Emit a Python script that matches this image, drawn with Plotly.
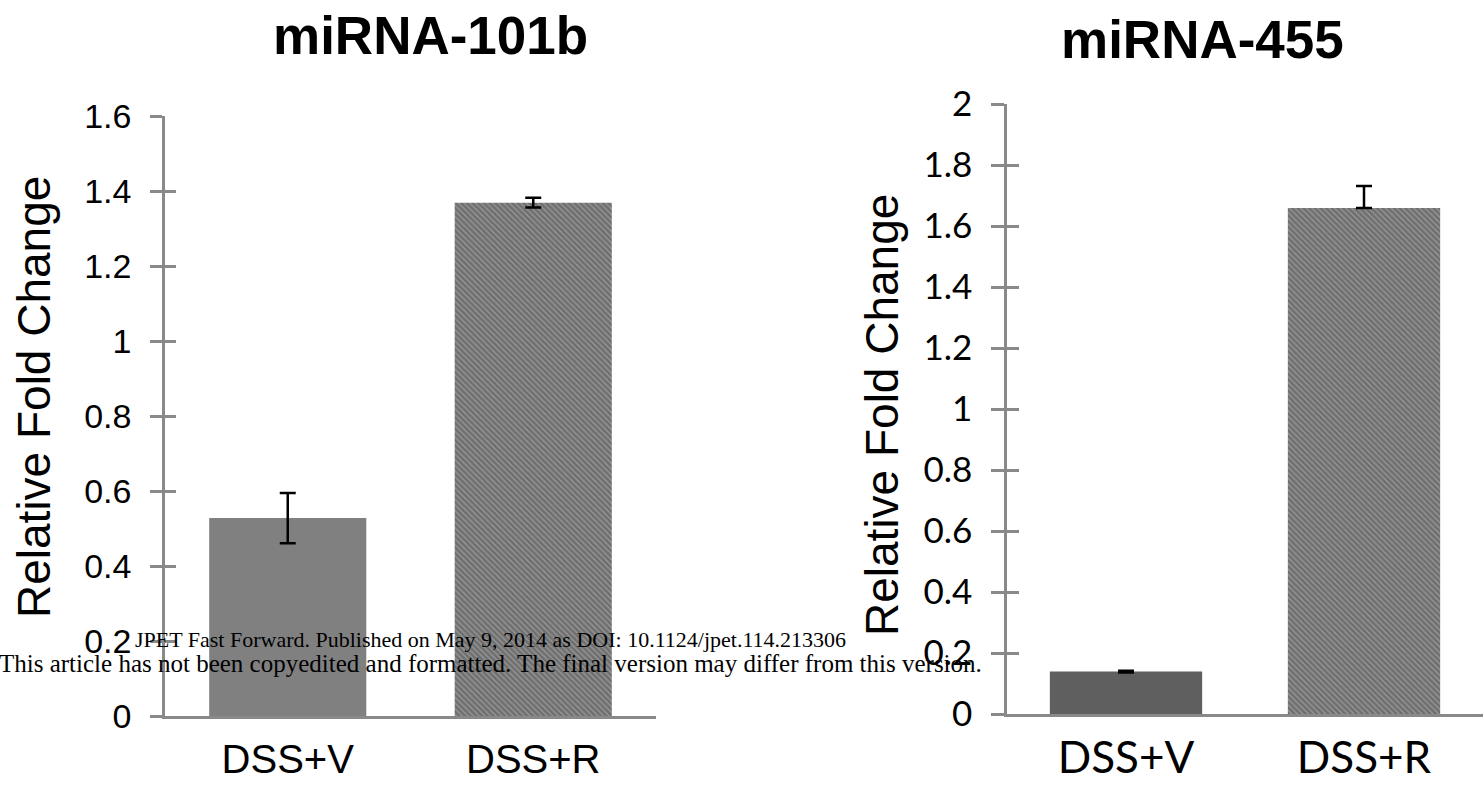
import plotly.graph_objects as go

W, H = 1483, 796

categories = ["DSS+V", "DSS+R"]

# miRNA-101b
mir101b_values = [0.528, 1.369]
mir101b_err = [0.067, 0.013]

# miRNA-455
mir455_values = [0.139, 1.659]
mir455_err_plus = [0.003, 0.072]
mir455_err_minus = [0.003, 0.0]

left_yticks = [0, 0.2, 0.4, 0.6, 0.8, 1.0, 1.2, 1.4, 1.6]
right_yticks = [0, 0.2, 0.4, 0.6, 0.8, 1.0, 1.2, 1.4, 1.6, 1.8, 2.0]

titles = ["miRNA-101b", "miRNA-455"]
ytitle = "Relative Fold Change"
watermark1 = "JPET Fast Forward. Published on May 9, 2014 as DOI: 10.1124/jpet.114.213306"
watermark2 = "This article has not been copyedited and formatted. The final version may differ from this version."

def px(x):
    return x / W

def py(y):
    return 1 - y / H

AX = "#898989"
ARIAL = "Liberation Sans, Arial, sans-serif"
CALIBRI = "Lato, Carlito, Calibri, sans-serif"
SERIF = "Liberation Serif, Times New Roman, serif"
HATCH_BG = "#9a9a9a"

fig = go.Figure()

fig.add_trace(go.Bar(
    x=categories, y=mir101b_values, xaxis="x", yaxis="y",
    marker=dict(color=["#808080", HATCH_BG], line=dict(width=0),
                pattern=dict(shape=["", "\\"], fgcolor="#000000", bgcolor=["#808080", HATCH_BG],
                             size=4, solidity=0.7)),
    error_y=dict(type="data", array=mir101b_err, visible=True, color="#000000",
                 thickness=2.5, width=8),
    showlegend=False, hoverinfo="x+y",
))
fig.add_trace(go.Bar(
    x=categories, y=mir455_values, xaxis="x2", yaxis="y2",
    marker=dict(color=["#5f5f5f", HATCH_BG], line=dict(width=0),
                pattern=dict(shape=["", "\\"], fgcolor="#000000", bgcolor=["#5f5f5f", HATCH_BG],
                             size=4, solidity=0.7)),
    error_y=dict(type="data", symmetric=False, array=mir455_err_plus, arrayminus=mir455_err_minus,
                 visible=True, color="#000000", thickness=2.5, width=8),
    showlegend=False, hoverinfo="x+y",
))
# empty traces so overlay axes (inner half of the cross ticks) are drawn
fig.add_trace(go.Scatter(x=[], y=[], xaxis="x", yaxis="y3", showlegend=False))
fig.add_trace(go.Scatter(x=[], y=[], xaxis="x2", yaxis="y4", showlegend=False))

xd1 = [px(165), px(656)]
yd1 = [py(716), py(116)]
xd2 = [px(1007), 1.0]
yd2 = [py(714), py(104)]

common_x = dict(showline=True, linecolor=AX, linewidth=2.5, ticks="", showgrid=False,
                zeroline=False, range=[-0.5, 1.5], type="category", automargin=False)
common_y = dict(showline=True, linecolor=AX, linewidth=2.5, ticks="outside", tickwidth=2.5,
                tickcolor=AX, showgrid=False, zeroline=False, automargin=False)
overlay_y = dict(showticklabels=False, ticks="inside", tickwidth=2.5, tickcolor=AX,
                 showline=False, showgrid=False, zeroline=False, automargin=False)
fig.update_layout(
    width=W, height=H, margin=dict(l=0, r=0, t=0, b=0, pad=0, autoexpand=False),
    paper_bgcolor="white", plot_bgcolor="white", bargap=0.36,
    xaxis=dict(domain=xd1, anchor="y", tickfont=dict(family=ARIAL, size=40, color="black"),
               ticklabelstandoff=6, **common_x),
    xaxis2=dict(domain=xd2, anchor="y2", tickfont=dict(family=CALIBRI, size=44, color="black"),
                ticklabelstandoff=3, **common_x),
    yaxis=dict(domain=yd1, anchor="x", range=[0, 1.6], tickvals=left_yticks,
               ticktext=[f"{v:g}" for v in left_yticks], ticklen=12,
               tickfont=dict(family=ARIAL, size=34, color="black"), ticklabelstandoff=12,
               **common_y),
    yaxis3=dict(overlaying="y", anchor="x", range=[0, 1.6], tickvals=left_yticks, ticklen=11,
                **overlay_y),
    yaxis2=dict(domain=yd2, anchor="x2", range=[0, 2.0], tickvals=right_yticks,
                ticktext=[f"{v:g}" for v in right_yticks], ticklen=13,
                tickfont=dict(family=CALIBRI, size=35, color="black"), ticklabelstandoff=12,
                **common_y),
    yaxis4=dict(overlaying="y2", anchor="x2", range=[0, 2.0], tickvals=right_yticks, ticklen=12,
                **overlay_y),
)

ann = []
ann.append(dict(text=f"<b>{titles[0]}</b>", x=px(430), y=py(35), xref="paper", yref="paper",
                showarrow=False, xanchor="center", yanchor="middle",
                font=dict(family=ARIAL, size=53, color="black")))
ann.append(dict(text=f"<b>{titles[1]}</b>", x=px(1202), y=py(39), xref="paper", yref="paper",
                showarrow=False, xanchor="center", yanchor="middle",
                font=dict(family=ARIAL, size=53, color="black")))
ann.append(dict(text=ytitle, x=px(34), y=py(397), xref="paper", yref="paper", textangle=-90,
                showarrow=False, xanchor="center", yanchor="middle",
                font=dict(family=ARIAL, size=46, color="black")))
ann.append(dict(text=ytitle, x=px(882), y=py(415), xref="paper", yref="paper", textangle=-90,
                showarrow=False, xanchor="center", yanchor="middle",
                font=dict(family=ARIAL, size=46, color="black")))
ann.append(dict(text=watermark1, x=px(491), y=py(639), xref="paper", yref="paper",
                showarrow=False, xanchor="center", yanchor="middle",
                font=dict(family=SERIF, size=22, color="black")))
ann.append(dict(text=watermark2, x=px(491), y=py(663), xref="paper", yref="paper",
                showarrow=False, xanchor="center", yanchor="middle",
                font=dict(family=SERIF, size=25, color="black")))
fig.update_layout(annotations=ann)

fig.write_html(
    "out.html",
    config={"displayModeBar": False},
    post_script="document.body.style.margin='0';document.body.style.overflow='hidden';",
)
